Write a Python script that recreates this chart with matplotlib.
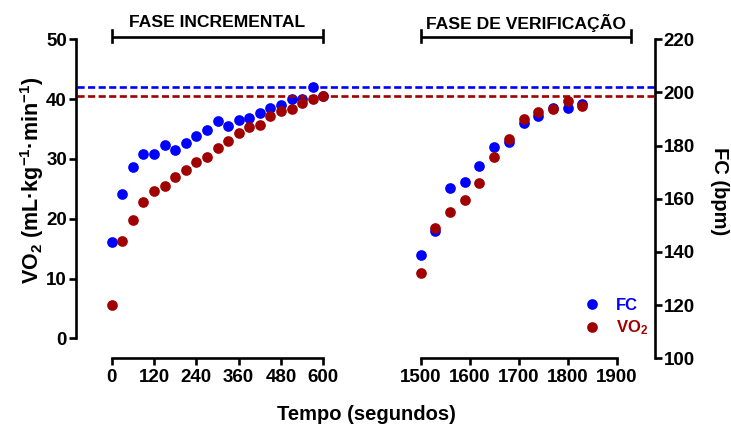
import matplotlib
matplotlib.use('Agg')
import matplotlib.pyplot as plt
from matplotlib.transforms import blended_transform_factory as btf

plt.rcParams['font.family'] = ['Liberation Sans', 'DejaVu Sans']
plt.rcParams['font.weight'] = 'bold'
plt.rcParams['mathtext.fontset'] = 'custom'
plt.rcParams['mathtext.rm'] = 'Liberation Sans:bold'
plt.rcParams['mathtext.bf'] = 'Liberation Sans:bold'
plt.rcParams['mathtext.it'] = 'Liberation Sans:bold:italic'

# ---------------- data ----------------
t_inc = [0, 30, 60, 90, 120, 150, 180, 210, 240, 270, 300, 330, 360, 390,
         420, 450, 480, 510, 540, 570, 600]
fc_inc = [143.8, 161.8, 172.0, 176.7, 177.0, 180.4, 178.4, 181.0, 183.8, 186.0,
          189.4, 187.5, 189.8, 190.3, 192.3, 194.1, 195.1, 197.7, 197.4, 202.0, 198.6]
vo2_inc = [5.6, 16.2, 19.8, 22.8, 24.6, 25.5, 26.9, 28.1, 29.5, 30.4,
           31.8, 33.0, 34.4, 35.3, 35.7, 37.1, 38.0, 38.3, 39.4, 40.1, 40.6]

t_ver = [1500, 1530, 1560, 1590, 1620, 1650, 1680, 1710, 1740, 1770, 1800, 1830]
fc_ver = [138.9, 147.7, 164.0, 166.4, 172.2, 179.5, 181.4, 188.6, 191.1, 194.0, 194.2, 195.8]
vo2_ver = [10.9, 18.4, 21.1, 23.2, 25.9, 30.4, 33.4, 36.6, 37.8, 38.3, 39.7, 38.8]

fc_max = 202.0
vo2_max = 40.6

inc_ticks = [0, 120, 240, 360, 480, 600]
ver_ticks = [1500, 1600, 1700, 1800, 1900]
vo2_ticks = [0, 10, 20, 30, 40, 50]
fc_ticks = [100, 120, 140, 160, 180, 200, 220]

inc_bracket = (0, 600)
ver_bracket = (1500, 1930)
inc_title = 'FASE INCREMENTAL'
ver_title = 'FASE DE VERIFICAÇÃO'

BLUE = '#0000FF'
RED = '#A00000'

# ---------------- figure ----------------
W, H = 731, 433
fig = plt.figure(figsize=(W / 100, H / 100), dpi=100)


def fx(px):
    return px / W


def fy(py):
    return 1 - py / H


top_px, bot_px = 39.3, 358.3
ax1 = fig.add_axes([fx(111.7), fy(bot_px), (323.3 - 111.7) / W, (bot_px - top_px) / H])
ax2 = fig.add_axes([fx(420.7), fy(bot_px), (616.7 - 420.7) / W, (bot_px - top_px) / H])
ax1r = ax1.twinx()
ax2r = ax2.twinx()

vo2_lo = -20.0 / (bot_px - top_px) * 50 / (1 - 20.0 / (bot_px - top_px))
for a in (ax1, ax2):
    a.set_ylim(vo2_lo, 50)
for a in (ax1r, ax2r):
    a.set_ylim(100, 220)
ax1.set_xlim(0, 600)
ax2.set_xlim(1500, 1900)

for a in (ax1, ax2):
    a.set_zorder(2)
    a.patch.set_visible(False)
for a in (ax1r, ax2r):
    a.set_zorder(1)

LW = 1.9
for a in (ax1, ax2, ax1r, ax2r):
    for s in a.spines.values():
        s.set_visible(False)
        s.set_linewidth(LW)
    a.tick_params(direction='out', length=5, width=LW, labelsize=13.5, pad=1.2)

# left VO2 axis
ax1.spines['left'].set_visible(True)
ax1.spines['left'].set_position(('outward', (111.7 - 75.5) * 0.72))
ax1.spines['left'].set_bounds(0, 50)
ax1.set_yticks(vo2_ticks)

# right FC axis
ax2r.spines['right'].set_visible(True)
ax2r.spines['right'].set_position(('outward', (655 - 616.7) * 0.72))
ax2r.spines['right'].set_bounds(100, 220)
ax2r.set_yticks(fc_ticks)

ax1r.set_yticks([])
ax2.set_yticks([])

# bottom axes
ax1.spines['bottom'].set_visible(True)
ax1.spines['bottom'].set_bounds(0, 600)
ax1.set_xticks(inc_ticks)
ax2.spines['bottom'].set_visible(True)
ax2.spines['bottom'].set_bounds(1500, 1900)
ax2.set_xticks(ver_ticks)
ax1.tick_params(axis='x', pad=3)
ax2.tick_params(axis='x', pad=3)

# data points
MS = 7.7
h_fc, = ax1r.plot(t_inc, fc_inc, 'o', color=BLUE, ms=MS, mew=0, clip_on=False, zorder=3)
ax2r.plot(t_ver, fc_ver, 'o', color=BLUE, ms=MS, mew=0, clip_on=False, zorder=3)
h_vo2, = ax1.plot(t_inc, vo2_inc, 'o', color=RED, ms=MS, mew=0, clip_on=False, zorder=3)
ax2.plot(t_ver, vo2_ver, 'o', color=RED, ms=MS, mew=0, clip_on=False, zorder=3)

# dashed max lines
dash = (0, (2.7, 1.3))
ax1r.plot([fx(77), fx(655)], [fc_max, fc_max], transform=btf(fig.transFigure, ax1r.transData),
          ls=dash, lw=LW, color=BLUE, clip_on=False, zorder=1)
ax1.plot([fx(77), fx(655)], [vo2_max, vo2_max], transform=btf(fig.transFigure, ax1.transData),
         ls=dash, lw=LW, color=RED, clip_on=False, zorder=1)

# brackets with phase titles
for a, (b0, b1), title in ((ax1, inc_bracket, inc_title), (ax2, ver_bracket, ver_title)):
    tr = btf(a.transData, fig.transFigure)
    a.plot([b0, b1], [fy(37.3), fy(37.3)], transform=tr, color='k', lw=LW, clip_on=False,
           solid_capstyle='butt')
    for b in (b0, b1):
        a.plot([b, b], [fy(29.5), fy(42)], transform=tr, color='k', lw=LW, clip_on=False)
    a.text((b0 + b1) / 2, fy(22.5), title, transform=tr, ha='center', va='center',
           fontsize=12.6, fontweight='bold')

# axis labels
fig.text(fx(32), fy(180), r'VO$_\mathbf{2}$ (mL·kg$^\mathbf{-1}$·min$^\mathbf{-1}$)',
         rotation=90, ha='center', va='center', fontsize=15.5, fontweight='bold')
fig.text(fx(720), fy(191), 'FC (bpm)', rotation=270, ha='center', va='center',
         fontsize=14.5, fontweight='bold')
fig.text(fx(366), fy(415), 'Tempo (segundos)', ha='center', va='center',
         fontsize=14.5, fontweight='bold')

# legend
leg = fig.legend([h_fc, h_vo2], ['FC', r'VO$_\mathbf{2}$'], loc='center left',
                 bbox_to_anchor=(fx(585.6), fy(317.5)), frameon=False, handlelength=0.8,
                 handletextpad=1.0, labelspacing=0.35, borderpad=0, borderaxespad=0,
                 numpoints=1, prop={'size': 12, 'weight': 'bold'})
for txt, c in zip(leg.get_texts(), (BLUE, RED)):
    txt.set_color(c)

fig.savefig('out.png', dpi=100)
